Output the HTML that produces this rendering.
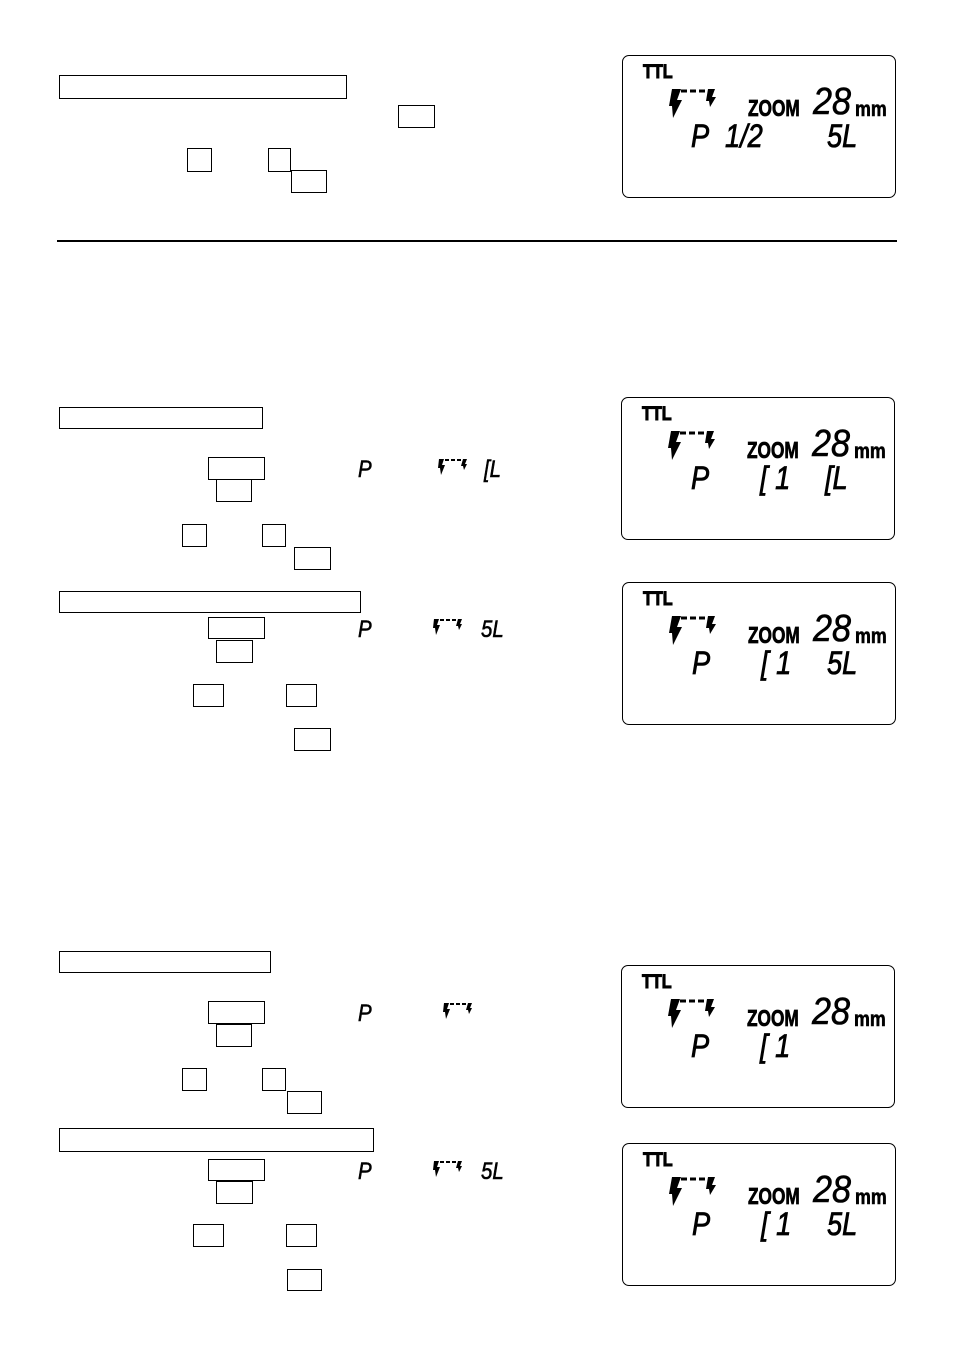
<!DOCTYPE html>
<html><head><meta charset="utf-8"><style>
body{margin:0;width:954px;height:1356px;background:#fff;position:relative;overflow:hidden;font-family:"Liberation Sans",sans-serif}
.b{position:absolute;border:1.5px solid #000;box-sizing:border-box}
.lcd{position:absolute;width:274px;height:143px;border:1.5px solid #000;border-radius:7px;box-sizing:border-box}
.t{position:absolute;line-height:1;white-space:nowrap;color:#000}
.ttl{left:20px;top:7px;font-weight:bold;font-size:19px;transform:scaleX(.85);transform-origin:0 0;-webkit-text-stroke:1px #000}
.zm{left:125px;top:41px;font-weight:bold;font-size:23px;transform:scaleX(.75);transform-origin:0 0;-webkit-text-stroke:.8px #000}
.n28{left:190px;top:27px;font-size:38px;font-style:italic;transform:scaleX(.9);transform-origin:0 0;-webkit-text-stroke:.6px #000}
.mm{left:232px;top:43px;font-weight:bold;font-size:21px;transform:scaleX(.85);transform-origin:0 0;-webkit-text-stroke:.6px #000}
.r2{top:64px;font-size:32px;font-style:italic;transform:scaleX(.85);transform-origin:0 0;-webkit-text-stroke:.8px #000}
.fl{position:absolute;left:45px;top:32px}
.s{position:absolute;font-size:24px;font-style:italic;line-height:1;transform:scaleX(.85);transform-origin:0 0;-webkit-text-stroke:.6px #000}
</style></head><body>
<div class="b" style="left:59px;top:75px;width:288px;height:24px"></div>
<div class="b" style="left:398px;top:105px;width:37px;height:23px"></div>
<div class="b" style="left:187px;top:148px;width:25px;height:24px"></div>
<div class="b" style="left:268px;top:148px;width:23px;height:24px"></div>
<div class="b" style="left:291px;top:170px;width:36px;height:23px"></div>
<div style="position:absolute;left:57px;top:240px;width:840px;height:2px;background:#000"></div>

<div class="b" style="left:59px;top:407px;width:204px;height:22px"></div>
<div class="b" style="left:208px;top:457px;width:57px;height:23px"></div>
<div class="b" style="left:216px;top:479px;width:36px;height:23px"></div>
<div class="b" style="left:182px;top:524px;width:25px;height:23px"></div>
<div class="b" style="left:262px;top:524px;width:24px;height:23px"></div>
<div class="b" style="left:294px;top:547px;width:37px;height:23px"></div>
<div class="s" style="left:358px;top:458px">P</div>
<svg style="position:absolute;left:436px;top:458px" width="36" height="22"><path d="M3 1h5l-2 6h3l-4 10-1-7H2z" fill="#000"/><path d="M9 2h4M15 2h4M21 2h4" stroke="#000" stroke-width="2"/><path d="M27 1h4l-2 5h2l-3 6-1-4h-2z" fill="#000"/></svg>
<div class="s" style="left:484px;top:458px">[L</div>

<div class="b" style="left:59px;top:591px;width:302px;height:22px"></div>
<div class="b" style="left:208px;top:617px;width:57px;height:22px"></div>
<div class="b" style="left:216px;top:640px;width:37px;height:23px"></div>
<div class="b" style="left:193px;top:684px;width:31px;height:23px"></div>
<div class="b" style="left:286px;top:684px;width:31px;height:23px"></div>
<div class="b" style="left:294px;top:728px;width:37px;height:23px"></div>
<div class="s" style="left:358px;top:618px">P</div>
<svg style="position:absolute;left:431px;top:618px" width="36" height="22"><path d="M3 1h5l-2 6h3l-4 10-1-7H2z" fill="#000"/><path d="M9 2h4M15 2h4M21 2h4" stroke="#000" stroke-width="2"/><path d="M27 1h4l-2 5h2l-3 6-1-4h-2z" fill="#000"/></svg>
<div class="s" style="left:481px;top:618px">5L</div>

<div class="b" style="left:59px;top:951px;width:212px;height:22px"></div>
<div class="b" style="left:208px;top:1001px;width:57px;height:23px"></div>
<div class="b" style="left:216px;top:1024px;width:36px;height:23px"></div>
<div class="b" style="left:182px;top:1068px;width:25px;height:23px"></div>
<div class="b" style="left:262px;top:1068px;width:24px;height:23px"></div>
<div class="b" style="left:287px;top:1091px;width:35px;height:23px"></div>
<div class="s" style="left:358px;top:1002px">P</div>
<svg style="position:absolute;left:441px;top:1002px" width="36" height="22"><path d="M3 1h5l-2 6h3l-4 10-1-7H2z" fill="#000"/><path d="M9 2h4M15 2h4M21 2h4" stroke="#000" stroke-width="2"/><path d="M27 1h4l-2 5h2l-3 6-1-4h-2z" fill="#000"/></svg>

<div class="b" style="left:59px;top:1128px;width:315px;height:24px"></div>
<div class="b" style="left:208px;top:1159px;width:57px;height:22px"></div>
<div class="b" style="left:216px;top:1181px;width:37px;height:23px"></div>
<div class="b" style="left:193px;top:1224px;width:31px;height:23px"></div>
<div class="b" style="left:286px;top:1224px;width:31px;height:23px"></div>
<div class="b" style="left:287px;top:1269px;width:35px;height:22px"></div>
<div class="s" style="left:358px;top:1160px">P</div>
<svg style="position:absolute;left:431px;top:1160px" width="36" height="22"><path d="M3 1h5l-2 6h3l-4 10-1-7H2z" fill="#000"/><path d="M9 2h4M15 2h4M21 2h4" stroke="#000" stroke-width="2"/><path d="M27 1h4l-2 5h2l-3 6-1-4h-2z" fill="#000"/></svg>
<div class="s" style="left:481px;top:1160px">5L</div>

<div class="lcd" style="left:622px;top:55px">
<div class="t ttl">TTL</div>
<svg class="fl" width="54" height="32"><path d="M4 1h9l-4 11h5l-9 18-1-12H1z" fill="#000"/><path d="M13 3h6M22 3h6M31 3h6" stroke="#000" stroke-width="3"/><path d="M40 1h7l-3 8h4l-6 10-1-6h-3z" fill="#000"/></svg>
<div class="t zm">ZOOM</div><div class="t n28">28</div><div class="t mm">mm</div>
<div class="t r2" style="left:68px">P</div><div class="t r2" style="left:102px">1/2</div><div class="t r2" style="left:204px">5L</div>
</div>
<div class="lcd" style="left:621px;top:397px">
<div class="t ttl">TTL</div>
<svg class="fl" width="54" height="32"><path d="M4 1h9l-4 11h5l-9 18-1-12H1z" fill="#000"/><path d="M13 3h6M22 3h6M31 3h6" stroke="#000" stroke-width="3"/><path d="M40 1h7l-3 8h4l-6 10-1-6h-3z" fill="#000"/></svg>
<div class="t zm">ZOOM</div><div class="t n28">28</div><div class="t mm">mm</div>
<div class="t r2" style="left:69px">P</div><div class="t r2" style="left:138px">[ 1</div><div class="t r2" style="left:203px">[L</div>
</div>
<div class="lcd" style="left:622px;top:582px">
<div class="t ttl">TTL</div>
<svg class="fl" width="54" height="32"><path d="M4 1h9l-4 11h5l-9 18-1-12H1z" fill="#000"/><path d="M13 3h6M22 3h6M31 3h6" stroke="#000" stroke-width="3"/><path d="M40 1h7l-3 8h4l-6 10-1-6h-3z" fill="#000"/></svg>
<div class="t zm">ZOOM</div><div class="t n28">28</div><div class="t mm">mm</div>
<div class="t r2" style="left:69px">P</div><div class="t r2" style="left:138px">[ 1</div><div class="t r2" style="left:204px">5L</div>
</div>
<div class="lcd" style="left:621px;top:965px">
<div class="t ttl">TTL</div>
<svg class="fl" width="54" height="32"><path d="M4 1h9l-4 11h5l-9 18-1-12H1z" fill="#000"/><path d="M13 3h6M22 3h6M31 3h6" stroke="#000" stroke-width="3"/><path d="M40 1h7l-3 8h4l-6 10-1-6h-3z" fill="#000"/></svg>
<div class="t zm">ZOOM</div><div class="t n28">28</div><div class="t mm">mm</div>
<div class="t r2" style="left:69px">P</div><div class="t r2" style="left:138px">[ 1</div>
</div>
<div class="lcd" style="left:622px;top:1143px">
<div class="t ttl">TTL</div>
<svg class="fl" width="54" height="32"><path d="M4 1h9l-4 11h5l-9 18-1-12H1z" fill="#000"/><path d="M13 3h6M22 3h6M31 3h6" stroke="#000" stroke-width="3"/><path d="M40 1h7l-3 8h4l-6 10-1-6h-3z" fill="#000"/></svg>
<div class="t zm">ZOOM</div><div class="t n28">28</div><div class="t mm">mm</div>
<div class="t r2" style="left:69px">P</div><div class="t r2" style="left:138px">[ 1</div><div class="t r2" style="left:204px">5L</div>
</div>
</body></html>
